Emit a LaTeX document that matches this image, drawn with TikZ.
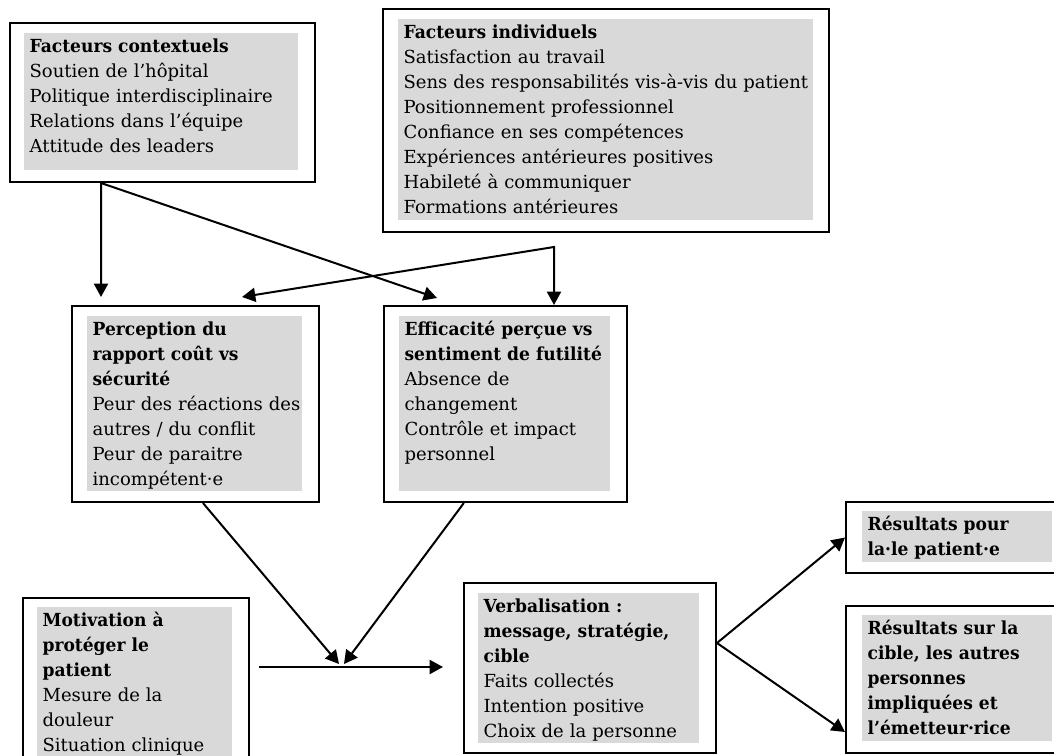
\documentclass[tikz,border=0pt]{standalone}
\usepackage{fontspec}
\setmainfont{DejaVu Serif}[BoldFeatures={FakeStretch=0.95}]
\usepackage{tikz}
\usetikzlibrary{positioning,arrows.meta,calc}
\definecolor{shadegray}{RGB}{217,217,217}

\begin{document}
\begin{tikzpicture}[
  x=0.75pt, y=-0.75pt,
  frame/.style={draw, line width=1.5pt, fill=white, anchor=north west, inner sep=0pt},
  bg/.style={fill=shadegray, anchor=north west, inner sep=0pt},
  txt/.style={anchor=north west, align=left, text width=14cm, inner xsep=4pt, inner ysep=0pt,
    text height=14.25pt, font=\fontsize{13.5}{18.75}\selectfont},
  arr/.style={line width=1.5pt, -{Triangle[length=10pt, width=10.5pt]}},
  arrs/.style={line width=1.5pt, {Triangle[length=10pt, width=10.5pt]}-{Triangle[length=10pt, width=10.5pt]}}]
  \path[use as bounding box, fill=white] (0,0) rectangle (1054,756);

  % boxes: frame, shading, text
  \node[frame, minimum width=228.75pt, minimum height=119.25pt] (ctx) at (9,22) {};
  \node[bg, minimum width=205.5pt, minimum height=102.75pt] (ctxbg) at (24,33) {};
  \node[txt] (ctxtxt) at (ctxbg.north west) {\textbf{Facteurs contextuels}\\ Soutien de l’hôpital\\
    Politique interdisciplinaire\\ Relations dans l’équipe\\ Attitude des leaders};

  \node[frame, minimum width=334.5pt, minimum height=167.25pt] (ind) at (382,8) {};
  \node[bg, minimum width=311.25pt, minimum height=150.75pt] (indbg) at (398,19) {};
  \node[txt] (indtxt) at (indbg.north west) {\textbf{Facteurs individuels}\\ Satisfaction au travail\\
    Sens des responsabilités vis-à-vis du patient\\ Positionnement professionnel\\
    Confiance en ses compétences\\ Expériences antérieures positives\\
    Habileté à communiquer\\ Formations antérieures};

  \node[frame, minimum width=185.25pt, minimum height=147pt] (perc) at (71,305) {};
  \node[bg, minimum width=161.25pt, minimum height=131.25pt] (percbg) at (87,316) {};
  \node[txt] (perctxt) at (percbg.north west) {\textbf{Perception du}\\ \textbf{rapport coût vs}\\
    \textbf{sécurité}\\ Peur des réactions des\\ autres / du conflit\\ Peur de paraitre\\ incompétent·e};

  \node[frame, minimum width=182.25pt, minimum height=147pt] (eff) at (383,305) {};
  \node[bg, minimum width=158.25pt, minimum height=131.25pt] (effbg) at (399,316) {};
  \node[txt] (efftxt) at (effbg.north west) {\textbf{Efficacité perçue vs}\\ \textbf{sentiment de futilité}\\
    Absence de\\ changement\\ Contrôle et impact\\ personnel};

  \node[frame, minimum width=169.5pt, minimum height=135pt] (motiv) at (22,597) {};
  \node[bg, minimum width=146.25pt, minimum height=127.5pt] (motivbg) at (37,607) {};
  \node[txt] (motivtxt) at (motivbg.north west) {\textbf{Motivation à}\\ \textbf{protéger le}\\
    \textbf{patient}\\ Mesure de la\\ douleur\\ Situation clinique};

  \node[frame, minimum width=189pt, minimum height=127.5pt] (verb) at (463,582) {};
  \node[bg, minimum width=165.75pt, minimum height=112.5pt] (verbbg) at (478,593) {};
  \node[txt] (verbtxt) at (verbbg.north west) {\textbf{Verbalisation :}\\ \textbf{message, stratégie,}\\
    \textbf{cible}\\ Faits collectés\\ Intention positive\\ Choix de la personne};

  \node[frame, minimum width=172.5pt, minimum height=53.25pt] (respat) at (845,501) {};
  \node[bg, minimum width=142.5pt, minimum height=38.25pt] (respatbg) at (862,511) {};
  \node[txt] (respattxt) at (respatbg.north west) {\textbf{Résultats pour}\\ \textbf{la·le patient·e}};

  \node[frame, minimum width=172.5pt, minimum height=110.25pt] (rescib) at (845,605) {};
  \node[bg, minimum width=142.5pt, minimum height=94.5pt] (rescibbg) at (862,615) {};
  \node[txt] (resciptxt) at (rescibbg.north west) {\textbf{Résultats sur la}\\ \textbf{cible, les autres}\\
    \textbf{personnes}\\ \textbf{impliquées et}\\ \textbf{l’émetteur·rice}};

  % free ends of the connectors
  \coordinate (percA) at (101,297);
  \coordinate (percB) at (242,297);
  \coordinate (effA) at (437,298);
  \coordinate (indfoot) at (554,247);
  \coordinate (junL) at (339,664);
  \coordinate (junR) at (344,664);
  \coordinate (motivout) at (259,667);
  \coordinate (verbin) at (443,667);

  \draw[arrs] (percA) -- (ctx.south -| percA) -- (effA);
  \draw[arrs] (percB) -- (indfoot) -- (eff.north -| indfoot);
  \draw[arr] ($(perc.south west)!0.53!(perc.south east)$) -- (junL);
  \draw[arr] ($(eff.south west)!0.33!(eff.south east)$) -- (junR);
  \draw[arr] (motivout) -- (verbin);
  \draw[arrs] (respat.west) -- ([yshift=18.75pt]verb.east) -- ([yshift=16.5pt]rescib.south west);
\end{tikzpicture}
\end{document}
